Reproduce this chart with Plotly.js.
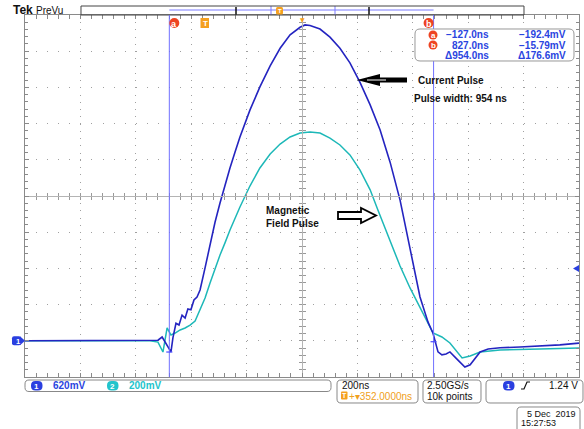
<!DOCTYPE html>
<html><head><meta charset="utf-8">
<script src="https://cdn.plot.ly/plotly-3.0.1.min.js"></script>
<style>html,body{margin:0;padding:0;background:#fff;overflow:hidden}#chart{width:584px;height:429px}</style>
</head><body><div id="chart"></div>
<script>
// ---- data (time in ns, voltage in V) ----
const timeCh1 = [-648,-377,-197,-168,-153,-139,-128,-121,-114,-103,-92,-81,-70,-60,-49,-38,-27,-16,2,20,38,56,74,92,110,128,164,200,237,273,309,345,363,381,417,453,489,525,561,598,634,670,706,742,778,807,825,843,857,872,886,915,940,959,977,995,1024,1067,1139,1211,1283,1352];
const voltsCh1 = [0,0,0,0.01,0.065,-0.055,-0.14,-0.19,0.05,0.30,0.27,0.44,0.39,0.545,0.53,0.70,0.75,0.87,1.25,1.64,2.03,2.36,2.67,2.96,3.23,3.49,3.95,4.35,4.71,5.01,5.24,5.37,5.41,5.40,5.34,5.20,5.01,4.76,4.43,4.04,3.61,3.06,2.41,1.56,0.75,0.32,0.13,-0.19,-0.24,-0.225,-0.19,-0.33,-0.45,-0.41,-0.29,-0.19,-0.14,-0.12,-0.106,-0.09,-0.07,-0.04];
const timeCh2 = [-648,-377,-197,-168,-150,-135,-121,-106,-88,-70,-52,-34,-16,2,20,38,56,74,92,128,164,200,237,273,309,345,381,417,453,489,525,561,598,626,652,670,706,742,778,807,825,857,886,930,959,995,1031,1067,1211,1352];
const voltsCh2 = [0,0,0,-0.007,-0.062,0.071,0.032,0.043,0.060,0.071,0.087,0.109,0.170,0.236,0.319,0.403,0.474,0.541,0.612,0.739,0.855,0.955,1.032,1.087,1.126,1.148,1.154,1.148,1.120,1.082,1.027,0.944,0.834,0.723,0.623,0.546,0.413,0.292,0.181,0.093,0.043,0.021,-0.012,-0.095,-0.084,-0.062,-0.056,-0.051,-0.045,-0.040];
const cursorTimes = [-127, 827];
const cursorVolts = [-0.1924, -0.01579];
const cursorLabels = ["a", "b"];
const readoutTimes = ["\u2212127.0ns", "827.0ns", "\u0394954.0ns"];
const readoutVolts = ["\u2212192.4mV", "\u221215.79mV", "\u0394176.6mV"];
const triggerTime = 0;
const triggerLevel = 1.24;
const centerTime = 352;
const timeScale = 200;   // ns/div
const ch1Scale = 0.62;   // V/div
const ch2Scale = 0.2;    // V/div
const groundDiv = -4;    // ground position in divisions from centre

// ---- geometry helpers (plot area in page pixels) ----
const L=25, R=579, T=15, B=377;
const PX = x => (x-L)/(R-L), PY = y => (B-y)/(B-T);
const shapes = [], ann = [];
const FONT = "Liberation Sans, Arial, sans-serif";
function rrect(x0,y0,x1,y1,r,fill,line,lw){
  const p=(x,y)=>PX(x).toFixed(5)+','+PY(y).toFixed(5);
  const d=`M${p(x0+r,y0)} L${p(x1-r,y0)} Q${p(x1,y0)} ${p(x1,y0+r)} L${p(x1,y1-r)} Q${p(x1,y1)} ${p(x1-r,y1)} L${p(x0+r,y1)} Q${p(x0,y1)} ${p(x0,y1-r)} L${p(x0,y0+r)} Q${p(x0,y0)} ${p(x0+r,y0)} Z`;
  shapes.push({type:'path',xref:'paper',yref:'paper',path:d,fillcolor:fill||'rgba(0,0,0,0)',line:{color:line||'rgba(0,0,0,0)',width:lw===undefined?1:lw},layer:'above'});
}
function poly(pts,fill,line,lw){
  const d='M'+pts.map(q=>PX(q[0]).toFixed(5)+','+PY(q[1]).toFixed(5)).join(' L')+' Z';
  shapes.push({type:'path',xref:'paper',yref:'paper',path:d,fillcolor:fill,line:{color:line||'rgba(0,0,0,0)',width:lw||0},layer:'above'});
}
function seg(x0,y0,x1,y1,color,w){
  shapes.push({type:'line',xref:'paper',yref:'paper',x0:PX(x0),x1:PX(x1),y0:PY(y0),y1:PY(y1),line:{color:color,width:w||1},layer:'above'});
}
function txt(x,y,s,o){
  o=o||{};
  ann.push({xref:'paper',yref:'paper',x:PX(x),y:PY(y),text:s,showarrow:false,xanchor:o.anchor||'left',yanchor:'middle',borderpad:0,
    font:{family:o.family||FONT,size:o.size||10,color:o.color||'#111',weight:o.bold?'bold':'normal'}});
}

const xMin = centerTime-5*timeScale, xMax = centerTime+5*timeScale;
const y1Min = (-5-groundDiv)*ch1Scale, y1Max = (5-groundDiv)*ch1Scale;
const y2Min = (-5-groundDiv)*ch2Scale, y2Max = (5-groundDiv)*ch2Scale;
const frac1 = v => (v-y1Min)/(y1Max-y1Min);
const fracToPy = f => B - f*(B-T);

// ---- top: Tek PreVu bar ----
txt(12,10.5,'Tek',{bold:true,size:12});
txt(35,10.5,'PreVu',{size:10});
shapes.push({type:'line',xref:'x',yref:'paper',x0:cursorTimes[0],x1:cursorTimes[1],y0:PY(10),y1:PY(10),line:{color:'#7a7aff',width:1},layer:'above'});
seg(271,6,271,15,'#7a7aff',1); seg(335,6,335,15,'#7a7aff',1);
seg(236,7,236,15,'#111',1.5); seg(369,7,369,15,'#111',1.5);
rrect(81,6,524,15,0,null,'#444',1);
rrect(276,7,283,14.5,1.5,'#f5a020',null,0);
txt(279.5,11,'T',{anchor:'center',size:6,color:'#fff',bold:true});

// ---- cursors ----
cursorTimes.forEach((t,i)=>{
  shapes.push({type:'line',xref:'x',yref:'paper',x0:t,x1:t,y0:0,y1:1,line:{color:'#7070ff',width:1},layer:'above'});
  shapes.push({type:'line',xref:'x',yref:'y2',x0:t-11,x1:t+11,y0:cursorVolts[i],y1:cursorVolts[i],line:{color:'#4a4aff',width:1.2},layer:'above'});
  const off = i===0 ? 5 : -5;
  shapes.push({type:'circle',xref:'x',yref:'paper',xsizemode:'pixel',ysizemode:'pixel',xanchor:t,yanchor:PY(23),x0:off-5,x1:off+5,y0:-5,y1:5,fillcolor:'#ee4422',line:{width:0},layer:'above'});
  ann.push({xref:'x',yref:'paper',x:t,xshift:off,y:PY(23.5),text:cursorLabels[i],showarrow:false,xanchor:'center',yanchor:'middle',borderpad:0,font:{family:FONT,size:9,color:'#fff',weight:'bold'}});
});
// trigger marker and expansion marker
shapes.push({type:'rect',xref:'x',yref:'paper',xsizemode:'pixel',ysizemode:'pixel',xanchor:triggerTime,yanchor:PY(23),x0:-4,x1:4.5,y0:-5,y1:5,fillcolor:'#f5a020',line:{width:0},layer:'above'});
ann.push({xref:'x',yref:'paper',x:triggerTime,xshift:0.5,y:PY(23),text:'T',showarrow:false,xanchor:'center',yanchor:'middle',borderpad:0,font:{family:FONT,size:8,color:'#fff',weight:'bold'}});
ann.push({xref:'x',yref:'paper',x:centerTime,y:PY(15),text:'\u25BC',showarrow:false,xanchor:'center',yanchor:'top',borderpad:0,font:{family:'DejaVu Sans',size:6,color:'#f5a020'}});

// ---- readout box ----
rrect(415,29,574,61,5,'#fff','#999',1);
[35,45,55].forEach((y,i)=>{
  if(i<2){
    shapes.push({type:'circle',xref:'paper',yref:'paper',x0:PX(428.5),x1:PX(437.5),y0:PY(y+4.5),y1:PY(y-4.5),fillcolor:'#ee4422',line:{width:0},layer:'above'});
    txt(433,y+0.5,cursorLabels[i],{anchor:'center',size:8,color:'#fff',bold:true});
  }
  txt(490,y,readoutTimes[i],{anchor:'right',color:'#2a44e0',bold:true});
  txt(567,y,readoutVolts[i],{anchor:'right',color:'#2a44e0',bold:true});
});

// ---- annotations with arrows ----
poly([[357,80],[380,74],[380,77.5],[407,77.5],[407,82.5],[380,82.5],[380,86]],'#000');
seg(367,80,386,80,'#fff',1);
txt(417,80.5,'Current Pulse',{bold:true});
txt(413,98.5,'Pulse width: 954 ns',{bold:true});
txt(265,211,'Magnetic',{bold:true});
txt(265,223.5,'Field Pulse',{bold:true});
poly([[338,212],[361,212],[361,208],[376,215.5],[361,223],[361,219],[338,219]],'#fff','#000',1.8);

// ---- ground tag & trigger level marker ----
const gy = fracToPy(frac1(0));
rrect(12,gy-4.5,21,gy+4.5,2,'#2a3fe0',null,0);
poly([[20,gy-4.5],[25,gy],[20,gy+4.5]],'#2a3fe0');
txt(17.5,gy+0.3,'1',{anchor:'center',size:7.5,color:'#fff',bold:true});
const ty = fracToPy(frac1(triggerLevel));
poly([[573,ty],[579,ty-3.5],[579,ty+3.5]],'#2a3fe0');

// ---- bottom status bar ----
rrect(25,380,331,391.5,4,'#fff','#888',1);
rrect(31,381,42.5,390.5,4.5,'#2a3fe0',null,0); txt(36.8,386,'1',{anchor:'center',size:8,color:'#fff',bold:true});
txt(52,385.8,'620mV',{color:'#2a44e0',bold:true});
rrect(107,381,118.5,390.5,4.5,'#22c4cc',null,0); txt(112.8,386,'2',{anchor:'center',size:8,color:'#fff',bold:true});
txt(128,385.8,'200mV',{color:'#22c4cc',bold:true});
rrect(337,380,418,403,4,'#fff','#888',1);
txt(341,385.5,'200ns');
rrect(341,391.5,347.5,399.5,1,'#f5a020',null,0); txt(344.3,395.7,'T',{anchor:'center',size:7,color:'#fff',bold:true});
txt(348,396,'+\u25BE352.0000ns',{color:'#f0a020'});
rrect(423,380,481,403,4,'#fff','#888',1);
txt(426,385.5,'2.50GS/s');
txt(426,396,'10k points');
rrect(486,380,583,403,4,'#fff','#888',1);
rrect(503,381,514.5,390.5,4.5,'#2a3fe0',null,0); txt(508.8,386,'1',{anchor:'center',size:8,color:'#fff',bold:true});
shapes.push({type:'path',xref:'paper',yref:'paper',path:`M${PX(521)},${PY(389)} L${PX(524)},${PY(389)} L${PX(527)},${PY(382)} L${PX(530)},${PY(382)}`,line:{color:'#111',width:1.2},layer:'above'});
txt(579,385.5,'1.24 V',{anchor:'right'});
rrect(517,407,580,436,4,'#fff','#888',1);
txt(577,413.5,'5 Dec  2019',{anchor:'right',size:9});
txt(520,422.5,'15:27:53',{size:9});

// ---- traces (ch2 on main axis, ch1 on overlay so it is drawn on top) ----
const traces = [
  {x:timeCh2,y:voltsCh2,mode:'lines',line:{color:'#1db8b8',width:1.5},hoverinfo:'skip',showlegend:false},
  {x:timeCh1,y:voltsCh1,yaxis:'y2',mode:'lines',line:{color:'#2424c0',width:1.6},hoverinfo:'skip',showlegend:false},
  {x:[null],y:[null],xaxis:'x2',yaxis:'y3',mode:'lines',hoverinfo:'skip',showlegend:false},
  {x:[null],y:[null],xaxis:'x3',yaxis:'y4',mode:'lines',hoverinfo:'skip',showlegend:false}
];
const frameCol='#8a8a8a', gridCol='#a0a0a0';
const baseX = {range:[xMin,xMax],tick0:xMin,showticklabels:false,zeroline:false,fixedrange:true};
const baseY = {range:[y2Min,y2Max],tick0:0,showticklabels:false,zeroline:false,fixedrange:true};
const layout = {
  width:584,height:429,margin:{l:L,r:584-R,t:T,b:429-B,pad:0},
  paper_bgcolor:'#fff',plot_bgcolor:'#fff',showlegend:false,
  xaxis:Object.assign({},baseX,{dtick:timeScale,showline:true,linecolor:frameCol,linewidth:1,mirror:'allticks',ticks:'inside',ticklen:4,tickcolor:frameCol,
    showgrid:true,gridcolor:gridCol,gridwidth:1,griddash:'1px,6.24px',
    minor:{dtick:timeScale/5,tick0:xMin,ticks:'inside',ticklen:3,tickcolor:frameCol,showgrid:false}}),
  yaxis:Object.assign({},baseY,{dtick:ch2Scale,showline:true,linecolor:frameCol,linewidth:1,mirror:'allticks',ticks:'inside',ticklen:4,tickcolor:frameCol,
    showgrid:true,gridcolor:gridCol,gridwidth:1,griddash:'1px,10.08px',
    minor:{dtick:ch2Scale/5,tick0:0,ticks:'inside',ticklen:3,tickcolor:frameCol,showgrid:false}}),
  yaxis2:{range:[y1Min,y1Max],overlaying:'y',visible:false,fixedrange:true},
  xaxis2:Object.assign({},baseX,{overlaying:'x',anchor:'free',position:0.5,side:'bottom',dtick:timeScale/5,showline:true,linecolor:'#b4b4b4',ticks:'inside',ticklen:3,tickcolor:'#999',showgrid:false}),
  xaxis3:Object.assign({},baseX,{overlaying:'x',anchor:'free',position:0.5,side:'top',dtick:timeScale/5,showline:true,linecolor:'#b4b4b4',ticks:'inside',ticklen:3,tickcolor:'#999',showgrid:false}),
  yaxis3:Object.assign({},baseY,{overlaying:'y',anchor:'free',position:0.5,side:'left',dtick:ch2Scale/5,showline:true,linecolor:'#b4b4b4',ticks:'inside',ticklen:3,tickcolor:'#999',showgrid:false}),
  yaxis4:Object.assign({},baseY,{overlaying:'y',anchor:'free',position:0.5,side:'right',dtick:ch2Scale/5,showline:true,linecolor:'#b4b4b4',ticks:'inside',ticklen:3,tickcolor:'#999',showgrid:false}),
  shapes:shapes,annotations:ann
};
Plotly.newPlot('chart',traces,layout,{staticPlot:true,displayModeBar:false});
</script></body></html>
